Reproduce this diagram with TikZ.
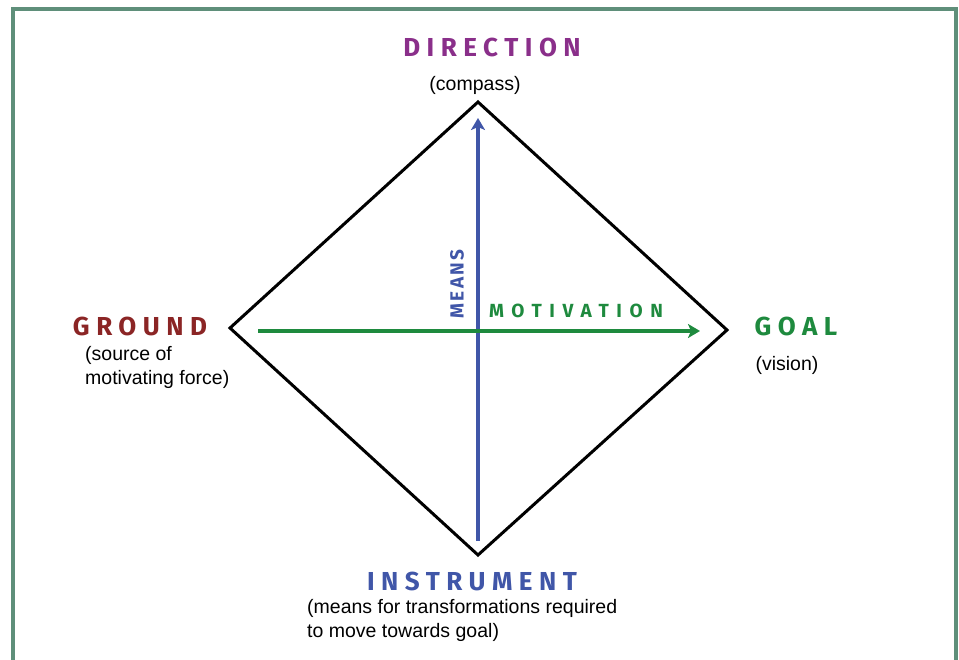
\documentclass[tikz,border=0pt]{standalone}
\usepackage{fontspec}
\setmainfont{Liberation Sans}
\newfontfamily\headfont[LetterSpace=25]{Fira Sans}
\newfontfamily\meansfont[LetterSpace=12]{Fira Sans}
\newfontfamily\motfont[LetterSpace=40]{Fira Sans}
\usetikzlibrary{arrows.meta,positioning}
\definecolor{framegreen}{HTML}{5F8F7A}
\definecolor{dirpurple}{HTML}{8A2F8A}
\definecolor{grdred}{HTML}{8B2525}
\definecolor{goalgreen}{HTML}{1E8A3E}
\definecolor{instblue}{HTML}{4056A8}
\tikzstyle{heading} = [inner sep=0pt, font=\headfont\bfseries\fontsize{26}{26}\selectfont]
\tikzstyle{note} = [inner sep=0pt, align=left, font=\fontsize{19.5}{24}\selectfont]
\tikzstyle{edgeline} = [line width=3pt, line join=miter]
\tikzstyle{axis} = [line width=4pt, -{Stealth[length=12pt,width=14pt,inset=3pt]}]

\begin{document}
\begin{tikzpicture}[x=1pt,y=-1pt]
        \useasboundingbox (0,0) rectangle (959,659);
        \draw [framegreen, line width=3.5pt] (13,680) -- (13,9) -- (956,9) -- (956,680);

        % Diamond corners
        \coordinate (top) at (478,102);
        \coordinate (right) at (727,330);
        \coordinate (bottom) at (478,555);
        \coordinate (left) at (230,328);
        \draw [edgeline] (top) -- (right) -- (bottom) -- (left) -- cycle;

        % Nodes
        \node (direction) [heading, text=dirpurple] at (492,47) {DIRECTION};
        \node (compass) [note] at (475,85) {(compass)};
        \node (ground) [heading, text=grdred] at (140,326) {GROUND};
        \node (source) [note, anchor=north west] at (85,346) {(source of\\motivating force)};
        \node (goal) [heading, text=goalgreen] at (796,326) {GOAL};
        \node (vision) [note] at (787,365) {(vision)};
        \node (instrument) [heading, text=instblue] at (472,581) {INSTRUMENT};
        \node (transform) [note, anchor=north west] at (307,599) {(means for transformations required\\to move towards goal)};
        \node (means) [inner sep=0pt, text=instblue, rotate=90, font=\meansfont\bfseries\fontsize{19}{19}\selectfont] at (457,284) {MEANS};
        \node (motivation) [inner sep=0pt, text=goalgreen, font=\motfont\bfseries\fontsize{19}{19}\selectfont] at (576,311) {MOTIVATION};

        % Arrows
        \coordinate (mstart) at (478,541);
        \coordinate (mend) at (478,118);
        \coordinate (vstart) at (258,331);
        \coordinate (vend) at (700,331);
        \draw [axis, instblue] (mstart) -- (mend);
        \draw [axis, goalgreen] (vstart) -- (vend);

\end{tikzpicture}
\end{document}
